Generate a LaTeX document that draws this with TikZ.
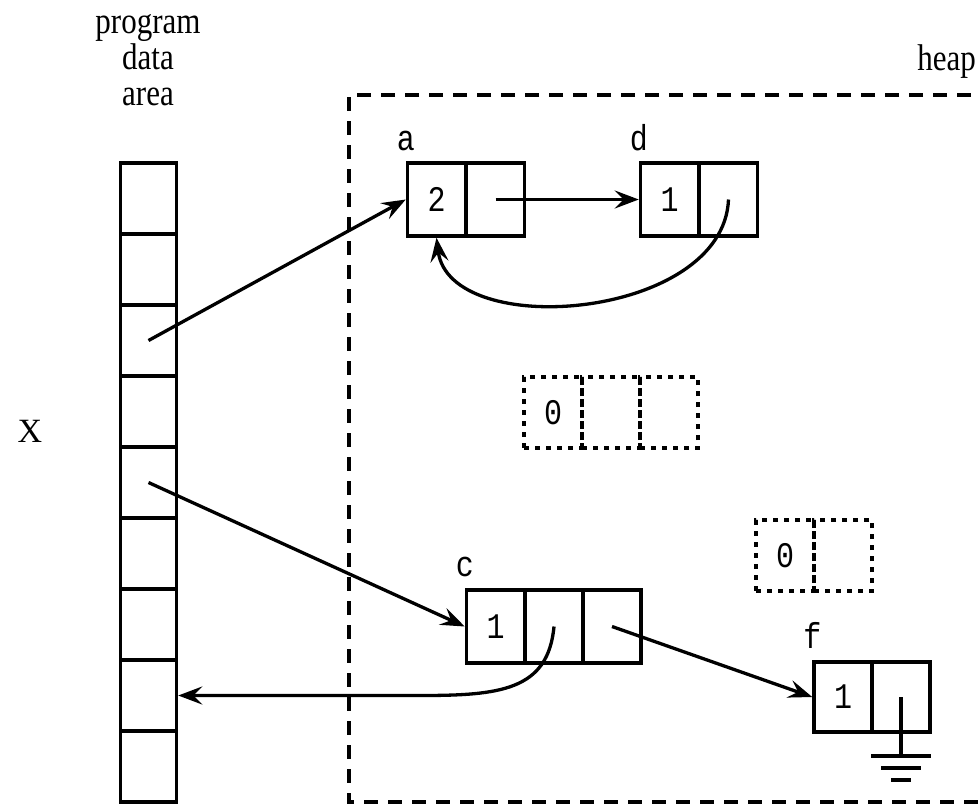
\documentclass[tikz,border=0pt]{standalone}
\usepackage{fontspec}
\usepackage{graphicx}
\setmainfont{Liberation Serif}
\setmonofont{Liberation Mono}
\usetikzlibrary{arrows.meta}
\newcommand{\vstretch}[1]{\scalebox{1}[1.2]{#1}}
\begin{document}
\begin{tikzpicture}[x=1pt,y=-1pt,
  cellbox/.style={draw, line width=3.5pt, minimum width=58pt, minimum height=73pt, inner sep=0pt, font=\ttfamily\fontsize{30}{30}\selectfont},
  fcell/.style={cellbox, minimum height=70pt},
  zcell/.style={draw, line width=3.5pt, dash pattern=on 5pt off 6pt, minimum width=58pt, minimum height=71pt, inner sep=0pt, font=\ttfamily\fontsize{30}{30}\selectfont},
  stackcell/.style={draw, line width=3.5pt, minimum width=56pt, minimum height=71pt, inner sep=0pt},
  lbl/.style={font=\ttfamily\fontsize{30}{30}\selectfont, inner sep=0pt, anchor=base},
  serif/.style={font=\rmfamily\fontsize{31}{31}\selectfont, inner sep=0pt, anchor=base},
  ptr/.style={line width=3.3pt, -{Stealth[length=24pt,width=18pt,inset=9pt]}},
  heapline/.style={line width=3.5pt, dash pattern=on 14pt off 10pt}
]
\useasboundingbox (0,0) rectangle (979,804);
\clip (0,0) rectangle (979,804);

% labels
\node[font=\rmfamily\fontsize{31}{36}\selectfont, inner sep=0pt, align=center, anchor=north] (pda) at (148,14) {\vstretch{program}\\\vstretch{data}\\\vstretch{area}};
\node[serif, anchor=base east] (heaplbl) at (976,70) {\vstretch{heap}};
\node[font=\rmfamily\fontsize{34}{34}\selectfont, inner sep=0pt, anchor=base] (xl) at (30,442) {X};

% heap boundary
\draw[heapline] (995,95) -- (349,95) -- (349,802) -- (995,802);

% stack
\foreach \i in {1,...,9} {
  \node[stackcell] (s\i) at (148.5,{163+35.5+71*(\i-1)}) {};
}

% node a
\node[cellbox] (a1) at (436.5,199.5) {\vstretch{2}};
\node[cellbox] (a2) at (495.5,199.5) {};
\node[lbl] (la) at ([yshift=11pt]a1.north west) {\vstretch{a}};

% node d
\node[cellbox] (d1) at (669.5,199.5) {\vstretch{1}};
\node[cellbox] (d2) at (728.5,199.5) {};
\node[lbl] (ld) at ([yshift=11pt]d1.north west) {\vstretch{d}};

% free cells
\node[zcell] (z1) at (553,412.5) {\vstretch{0}};
\node[zcell] (z2) at (611,412.5) {};
\node[zcell] (z3) at (669,412.5) {};
\node[zcell] (y1) at (785,555.5) {\vstretch{0}};
\node[zcell] (y2) at (843,555.5) {};

% node c
\node[cellbox] (c1) at (495.5,626.5) {\vstretch{1}};
\node[cellbox] (c2) at (554,626.5) {};
\node[cellbox] (c3) at (612,626.5) {};
\node[lbl] (lc) at ([yshift=12pt]c1.north west) {\vstretch{c}};

% node f
\node[fcell] (f1) at (843,697) {\vstretch{1}};
\node[fcell] (f2) at (901,697) {};
\node[lbl] (lf) at ([yshift=12pt]f1.north west) {\vstretch{f}};

% ground
\coordinate (gnd) at (901,756);
\draw[line width=4pt] (f2.center) -- (gnd);
\draw[line width=4pt] ([xshift=-30pt]gnd) -- ([xshift=30pt]gnd);
\draw[line width=4pt] ([xshift=-20pt,yshift=-12pt]gnd) -- ([xshift=20pt,yshift=-12pt]gnd);
\draw[line width=4pt] ([xshift=-10pt,yshift=-24pt]gnd) -- ([xshift=10pt,yshift=-24pt]gnd);

% pointers
\draw[ptr] (s3.center) -- (a1.west);
\draw[ptr] (s5.center) -- (c1.west);
\draw[ptr] (a2.center) -- (d1.west);
\draw[ptr] (d2.center) .. controls +(-5,120) and +(13,104) .. (a1.south);
\draw[ptr] (c3.center) -- (f1.west);
\coordinate (bend) at (420,695.5);
\draw[ptr] (c2.center) .. controls +(-6,64) and +(80,0) .. (bend) -- (s8.east);
\end{tikzpicture}
\end{document}
